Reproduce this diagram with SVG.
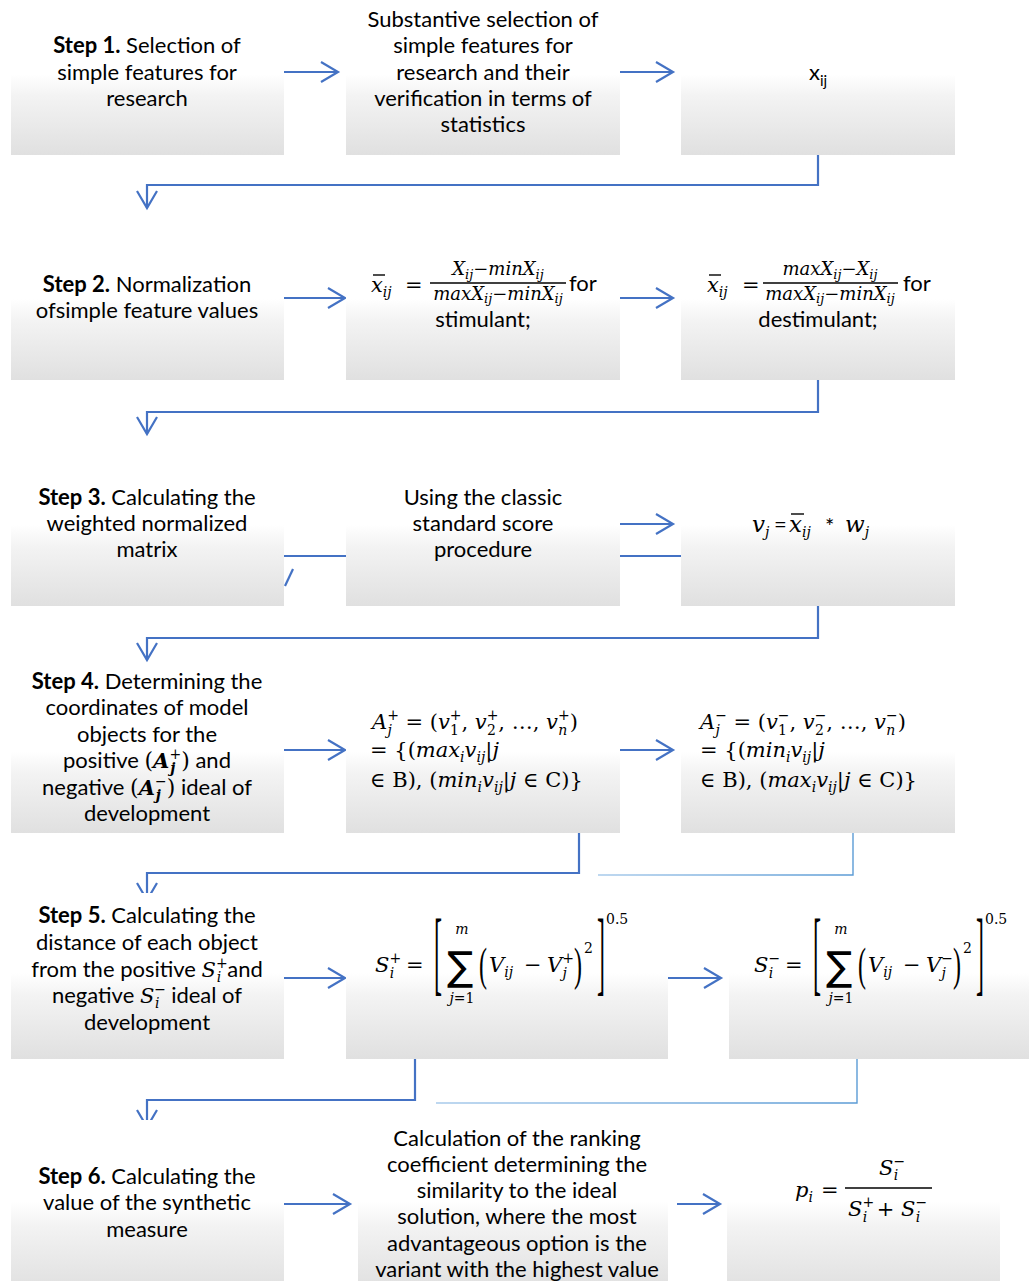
<svg xmlns="http://www.w3.org/2000/svg" width="1029" height="1281" viewBox="0 0 1029 1281">
<style>
.t{font-family:Lato,"Liberation Sans",sans-serif;font-size:22px;fill:#000;text-anchor:middle}
.st{text-anchor:start}
.mid{text-anchor:middle}
.b{font-weight:bold}
.m{font-family:"DejaVu Serif",serif;font-style:italic;fill:#000}
.M{font-size:21px}
.L{font-size:23px}
.S{font-size:14px}
.F{font-size:18px}
.FS{font-size:13px}
.u{font-style:normal}
.d{font-family:"Liberation Serif",serif;font-size:24px;fill:#000}
.sig{font-family:"DejaVu Sans",sans-serif;font-size:36px;fill:#000}
.ln{fill:none;stroke:#4472C4;stroke-width:2.2}
.thin{fill:none;stroke:url(#lg);stroke-width:1.4}
.box{fill:url(#g)}
.ov{stroke:#000;stroke-width:1.4}
</style>
<defs>
<linearGradient id="g" x1="0" y1="0" x2="0" y2="1">
<stop offset="0" stop-color="#ffffff"/>
<stop offset="0.48" stop-color="#ffffff"/>
<stop offset="0.62" stop-color="#f3f3f3"/>
<stop offset="1" stop-color="#e0e0e0"/>
</linearGradient>
<linearGradient id="lg" x1="0" y1="0" x2="1" y2="0">
<stop offset="0" stop-color="#a9cbeb"/>
<stop offset="1" stop-color="#5b9bd5"/>
</linearGradient>
<marker id="ah" markerUnits="userSpaceOnUse" markerWidth="24" markerHeight="24" refX="18" refY="11" orient="auto" overflow="visible">
<path d="M1,1 L18,11 L1,21" fill="none" stroke="#4472C4" stroke-width="2.2"/>
</marker>
</defs>
<rect width="1029" height="1281" fill="#fff"/>

<g id="connectors">
<path class="ln" d="M284,72 H338" marker-end="url(#ah)"/>
<path class="ln" d="M620,72 H673" marker-end="url(#ah)"/>
<path class="ln" d="M818,155 V185 H147 V208" marker-end="url(#ah)"/>
<path class="ln" d="M284,298 H345" marker-end="url(#ah)"/>
<path class="ln" d="M620,298 H673" marker-end="url(#ah)"/>
<path class="ln" d="M818,380 V412 H147 V434" marker-end="url(#ah)"/>
<path class="ln" d="M346,556 H284"/>
<path class="ln" d="M293,569 L285,586"/>
<path class="ln" d="M620,524 H673" marker-end="url(#ah)"/>
<path class="ln" d="M620,556 H681"/>
<path class="ln" d="M818,606 V638 H147 V660" marker-end="url(#ah)"/>
<path class="ln" d="M284,750 H345" marker-end="url(#ah)"/>
<path class="ln" d="M620,750 H673" marker-end="url(#ah)"/>
<path class="ln" d="M579,833 V873 H147 V900" marker-end="url(#ah)"/>
<path class="thin" d="M853,831 V875 H598"/>
<path class="ln" d="M284,978 H345" marker-end="url(#ah)"/>
<path class="ln" d="M668,978 H721" marker-end="url(#ah)"/>
<path class="ln" d="M415,1059 V1100 H147 V1127" marker-end="url(#ah)"/>
<path class="thin" d="M857,1055 V1103 H436"/>
<path class="ln" d="M284,1204 H350" marker-end="url(#ah)"/>
<path class="ln" d="M677,1204 H720" marker-end="url(#ah)"/>
</g>

<g id="n1a"><rect class="box" x="11" y="0" width="273" height="155"/>
<text class="t" x="147" y="53"><tspan class="b">Step 1.</tspan> Selection of</text>
<text class="t" x="147" y="80">simple features for</text>
<text class="t" x="147" y="106">research</text></g>

<g id="n1b"><rect class="box" x="346" y="0" width="274" height="155"/>
<text class="t" x="483" y="27">Substantive selection of</text>
<text class="t" x="483" y="53">simple features for</text>
<text class="t" x="483" y="80">research and their</text>
<text class="t" x="483" y="106">verification in terms of</text>
<text class="t" x="483" y="132">statistics</text></g>

<g id="n1c"><rect class="box" x="681" y="0" width="274" height="155"/>
<text class="t" x="818" y="80">x<tspan font-size="15" dy="6">ij</tspan></text></g>

<g id="n2a"><rect class="box" x="11" y="224" width="273" height="156"/>
<text class="t" x="147" y="292"><tspan class="b">Step 2.</tspan> Normalization</text>
<text class="t" x="147" y="318">ofsimple feature values</text></g>

<g id="n2b"><rect class="box" x="346" y="224" width="274" height="156"/>
<text class="m M" x="371" y="292">x<tspan class="S" dy="5">ij</tspan></text>
<line class="ov" x1="373" y1="275" x2="385" y2="275"/>
<text class="m M u" x="405" y="292">=</text>
<text class="m F mid" x="498" y="275">X<tspan class="FS" dy="4">ij</tspan><tspan class="u" dy="-4">−</tspan>minX<tspan class="FS" dy="4">ij</tspan></text>
<line class="ov" x1="430" y1="283" x2="566" y2="283"/>
<text class="m F mid" x="498" y="300">maxX<tspan class="FS" dy="3">ij</tspan><tspan class="u" dy="-3">−</tspan>minX<tspan class="FS" dy="3">ij</tspan></text>
<text class="t st" x="569" y="291">for</text>
<text class="t" x="483" y="327">stimulant;</text></g>

<g id="n2c"><rect class="box" x="681" y="224" width="274" height="156"/>
<text class="m M" x="707" y="292">x<tspan class="S" dy="5">ij</tspan></text>
<line class="ov" x1="709" y1="275" x2="721" y2="275"/>
<text class="m M u" x="742" y="292">=</text>
<text class="m F mid" x="830" y="275">maxX<tspan class="FS" dy="4">ij</tspan><tspan class="u" dy="-4">−</tspan>X<tspan class="FS" dy="4">ij</tspan></text>
<line class="ov" x1="763" y1="283" x2="898" y2="283"/>
<text class="m F mid" x="830" y="300">maxX<tspan class="FS" dy="3">ij</tspan><tspan class="u" dy="-3">−</tspan>minX<tspan class="FS" dy="3">ij</tspan></text>
<text class="t st" x="903" y="291">for</text>
<text class="t" x="818" y="327">destimulant;</text></g>

<g id="n3a"><rect class="box" x="11" y="450" width="273" height="156"/>
<text class="t" x="147" y="505"><tspan class="b">Step 3.</tspan> Calculating the</text>
<text class="t" x="147" y="531">weighted normalized</text>
<text class="t" x="147" y="557">matrix</text></g>

<g id="n3b"><rect class="box" x="346" y="450" width="274" height="156"/>
<text class="t" x="483" y="505">Using the classic</text>
<text class="t" x="483" y="531">standard score</text>
<text class="t" x="483" y="557">procedure</text></g>

<g id="n3c"><rect class="box" x="681" y="450" width="274" height="156"/>
<text class="m L" x="752" y="532">v<tspan class="S" dy="5">j</tspan></text>
<text class="t st" x="774" y="532">=</text>
<text class="m L" x="789" y="532">x<tspan class="S" dy="5">ij</tspan></text>
<line class="ov" x1="791" y1="514" x2="804" y2="514"/>
<text class="t st" x="825" y="534" font-size="26">*</text>
<text class="m L" x="845" y="532">w<tspan class="S" dy="5">j</tspan></text></g>

<g id="n4a"><rect class="box" x="11" y="676" width="273" height="157"/>
<text class="t" x="147" y="689"><tspan class="b">Step 4.</tspan> Determining the</text>
<text class="t" x="147" y="715">coordinates of model</text>
<text class="t" x="147" y="742">objects for the</text>
<text class="t" x="147" y="768">positive <tspan class="m u">(</tspan><tspan class="m b M">A</tspan><tspan class="m u S" dy="-9">+</tspan><tspan class="m b S" dx="-11" dy="14">j</tspan><tspan class="m u" dx="6" dy="-5">)</tspan> and</text>
<text class="t" x="147" y="795">negative <tspan class="m u">(</tspan><tspan class="m b M">A</tspan><tspan class="m u S" dy="-9">−</tspan><tspan class="m b S" dx="-11" dy="14">j</tspan><tspan class="m u" dx="6" dy="-5">)</tspan> ideal of</text>
<text class="t" x="147" y="821">development</text></g>

<g id="n4b"><rect class="box" x="346" y="676" width="274" height="157"/>
<text class="m M" x="372" y="729">A<tspan class="S u" dy="-9">+</tspan><tspan class="S" dx="-11.5" dy="15">j</tspan><tspan class="u" dx="7" dy="-6"> = (</tspan>v<tspan class="S u" dy="-9">+</tspan><tspan class="S u" dx="-11.5" dy="15">1</tspan><tspan class="u" dx="2.5" dy="-6">, </tspan>v<tspan class="S u" dy="-9">+</tspan><tspan class="S u" dx="-11.5" dy="15">2</tspan><tspan class="u" dx="2.5" dy="-6">, …, </tspan>v<tspan class="S u" dy="-9">+</tspan><tspan class="S" dx="-11.5" dy="15">n</tspan><tspan class="u" dx="2.5" dy="-6">)</tspan></text>
<text class="m M" x="370" y="757"><tspan class="u">= {(</tspan>max<tspan class="S" dy="5">i</tspan><tspan dy="-5">v</tspan><tspan class="S" dy="5">ij</tspan><tspan class="u" dy="-5">|</tspan>j</text>
<text class="m M" x="370" y="787"><tspan class="u">∈ B), (</tspan>min<tspan class="S" dy="5">i</tspan><tspan dy="-5">v</tspan><tspan class="S" dy="5">ij</tspan><tspan class="u" dy="-5">|</tspan>j<tspan class="u"> ∈ C)}</tspan></text></g>

<g id="n4c"><rect class="box" x="681" y="676" width="274" height="157"/>
<text class="m M" x="700" y="729">A<tspan class="S u" dy="-9">−</tspan><tspan class="S" dx="-11.5" dy="15">j</tspan><tspan class="u" dx="7" dy="-6"> = (</tspan>v<tspan class="S u" dy="-9">−</tspan><tspan class="S u" dx="-11.5" dy="15">1</tspan><tspan class="u" dx="2.5" dy="-6">, </tspan>v<tspan class="S u" dy="-9">−</tspan><tspan class="S u" dx="-11.5" dy="15">2</tspan><tspan class="u" dx="2.5" dy="-6">, …, </tspan>v<tspan class="S u" dy="-9">−</tspan><tspan class="S" dx="-11.5" dy="15">n</tspan><tspan class="u" dx="2.5" dy="-6">)</tspan></text>
<text class="m M" x="700" y="757"><tspan class="u">= {(</tspan>min<tspan class="S" dy="5">i</tspan><tspan dy="-5">v</tspan><tspan class="S" dy="5">ij</tspan><tspan class="u" dy="-5">|</tspan>j</text>
<text class="m M" x="700" y="787"><tspan class="u">∈ B), (</tspan>max<tspan class="S" dy="5">i</tspan><tspan dy="-5">v</tspan><tspan class="S" dy="5">ij</tspan><tspan class="u" dy="-5">|</tspan>j<tspan class="u"> ∈ C)}</tspan></text></g>

<g id="n5a"><rect class="box" x="11" y="893" width="273" height="166"/>
<text class="t" x="147" y="923"><tspan class="b">Step 5.</tspan> Calculating the</text>
<text class="t" x="147" y="950">distance of each object</text>
<text class="t" x="147" y="977">from the positive <tspan class="m M">S</tspan><tspan class="m u S" dy="-9">+</tspan><tspan class="m S" dx="-11" dy="14">i</tspan><tspan dx="6" dy="-5">and</tspan></text>
<text class="t" x="147" y="1003">negative  <tspan class="m M">S</tspan><tspan class="m u S" dy="-9">−</tspan><tspan class="m S" dx="-11" dy="14">i</tspan><tspan dx="6" dy="-5"> ideal of</tspan></text>
<text class="t" x="147" y="1030">development</text></g>

<g id="n5b"><rect class="box" x="346" y="893" width="322" height="166"/>
<text class="m M" x="375" y="972">S<tspan class="S u" dy="-9">+</tspan><tspan class="S" dx="-11.5" dy="15">i</tspan></text>
<text class="m M u" x="406" y="972">=</text>
<text class="d" transform="translate(434,984) scale(1,3.9)">[</text>
<text class="sig" transform="translate(447,980) scale(1.08,1.1)">∑</text>
<text class="m S mid" x="462" y="934">m</text>
<text class="m S mid" x="462" y="1003">j<tspan class="u">=1</tspan></text>
<text class="d" transform="translate(479,980) scale(1,1.9)">(</text>
<text class="m M" x="489" y="972">V<tspan class="S" dy="5">ij</tspan></text>
<text class="m M u" x="524" y="972">−</text>
<text class="m M" x="547" y="972">V<tspan class="S u" dy="-9">+</tspan><tspan class="S" dx="-11.5" dy="15">j</tspan></text>
<text class="d" transform="translate(574,980) scale(1,1.9)">)</text>
<text class="m S u" x="584" y="953">2</text>
<text class="d" transform="translate(597,984) scale(1,3.9)">]</text>
<text class="m S u" x="606" y="924">0.5</text></g>

<g id="n5c"><rect class="box" x="729" y="893" width="300" height="166"/>
<text class="m M" x="754" y="972">S<tspan class="S u" dy="-9">−</tspan><tspan class="S" dx="-11.5" dy="15">i</tspan></text>
<text class="m M u" x="785" y="972">=</text>
<text class="d" transform="translate(813,984) scale(1,3.9)">[</text>
<text class="sig" transform="translate(826,980) scale(1.08,1.1)">∑</text>
<text class="m S mid" x="841" y="934">m</text>
<text class="m S mid" x="841" y="1003">j<tspan class="u">=1</tspan></text>
<text class="d" transform="translate(858,980) scale(1,1.9)">(</text>
<text class="m M" x="868" y="972">V<tspan class="S" dy="5">ij</tspan></text>
<text class="m M u" x="903" y="972">−</text>
<text class="m M" x="926" y="972">V<tspan class="S u" dy="-9">−</tspan><tspan class="S" dx="-11.5" dy="15">j</tspan></text>
<text class="d" transform="translate(953,980) scale(1,1.9)">)</text>
<text class="m S u" x="963" y="953">2</text>
<text class="d" transform="translate(976,984) scale(1,3.9)">]</text>
<text class="m S u" x="985" y="924">0.5</text></g>

<g id="n6a"><rect class="box" x="11" y="1120" width="273" height="170"/>
<text class="t" x="147" y="1184"><tspan class="b">Step 6.</tspan> Calculating the</text>
<text class="t" x="147" y="1210">value of the synthetic</text>
<text class="t" x="147" y="1237">measure</text></g>

<g id="n6b"><rect class="box" x="358" y="1120" width="310" height="170"/>
<text class="t" x="517" y="1146">Calculation of the ranking</text>
<text class="t" x="517" y="1172">coefficient determining the</text>
<text class="t" x="517" y="1198">similarity to the ideal</text>
<text class="t" x="517" y="1224">solution, where the most</text>
<text class="t" x="517" y="1251">advantageous option is the</text>
<text class="t" x="517" y="1277">variant with the highest value</text></g>

<g id="n6c"><rect class="box" x="727" y="1120" width="273" height="170"/>
<text class="m M" x="795" y="1197">p<tspan class="S" dy="5">i</tspan></text>
<text class="m M u" x="821" y="1197">=</text>
<text class="m M" x="879" y="1175">S<tspan class="S u" dy="-9">−</tspan><tspan class="S" dx="-11.5" dy="14">i</tspan></text>
<line class="ov" x1="845" y1="1188" x2="932" y2="1188"/>
<text class="m M" x="848" y="1216">S<tspan class="S u" dy="-9">+</tspan><tspan class="S" dx="-11.5" dy="15">i</tspan><tspan class="u" dx="3" dy="-6"> + </tspan>S<tspan class="S u" dy="-9">−</tspan><tspan class="S" dx="-11.5" dy="15">i</tspan></text></g>
</svg>
